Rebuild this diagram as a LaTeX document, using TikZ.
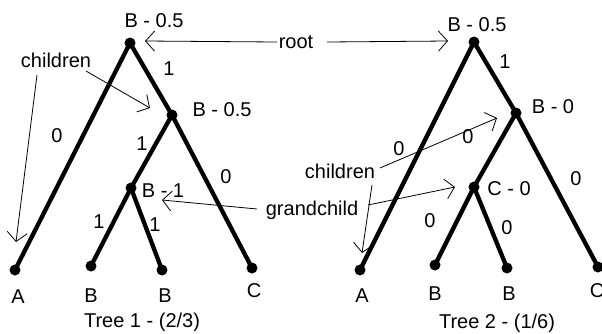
\documentclass[tikz,border=0pt]{standalone}
\usepackage{fontspec}
\setmainfont{Liberation Sans}
\usetikzlibrary{arrows.meta}
\begin{document}
\begin{tikzpicture}[x=1pt,y=-1pt,
  dot/.style={circle,fill=black,inner sep=0pt,minimum size=11pt},
  edge/.style={line width=4.3pt},
  lbl/.style={anchor=base,inner sep=0pt,font=\fontsize{20}{24}\selectfont},
  note/.style={line width=0.8pt,-{Straight Barb[length=9pt,width=20pt,line width=0.8pt]}}]
\useasboundingbox (0,0) rectangle (602,333);
% Tree 1
\node[dot] (r1) at (130,43) {};
\node[dot] (a1) at (172,115) {};
\node[dot] (b1) at (131,188) {};
\node[dot] (la1) at (15,270) {};
\node[dot] (lb1) at (91,266) {};
\node[dot] (lc1) at (162,270) {};
\node[dot] (ld1) at (252,268) {};
\draw[edge] (r1.center) -- (la1.center);
\draw[edge] (r1.center) -- (a1.center);
\draw[edge] (a1.center) -- (b1.center);
\draw[edge] (a1.center) -- (ld1.center);
\draw[edge] (b1.center) -- (lb1.center);
\draw[edge] (b1.center) -- (lc1.center);
\node[lbl] (t1r) at (154,27) {B - 0.5};
\node[lbl] (t1a) at (222,116) {B - 0.5};
\node[lbl] (t1b) at (163,197) {B - 1};
\node[lbl] (e1) at (169,75) {1};
\node[lbl] (e2) at (57,142) {0};
\node[lbl] (e3) at (142,150) {1};
\node[lbl] (e4) at (226,183) {0};
\node[lbl] (e5) at (99,228) {1};
\node[lbl] (e6) at (155,231) {1};
\node[lbl] (n1) at (18,303) {A};
\node[lbl] (n2) at (91,302) {B};
\node[lbl] (n3) at (165,302) {B};
\node[lbl] (n4) at (254,297) {C};
\node[lbl] (cap1) at (142,327) {Tree 1 - (2/3)};
% Tree 2
\node[dot] (r2) at (474,42) {};
\node[dot] (a2) at (516,113) {};
\node[dot] (b2) at (474,187) {};
\node[dot] (la2) at (360,270) {};
\node[dot] (lb2) at (435,265) {};
\node[dot] (lc2) at (507,268) {};
\node[dot] (ld2) at (598,267) {};
\draw[edge] (r2.center) -- (la2.center);
\draw[edge] (r2.center) -- (a2.center);
\draw[edge] (a2.center) -- (b2.center);
\draw[edge] (a2.center) -- (ld2.center);
\draw[edge] (b2.center) -- (lb2.center);
\draw[edge] (b2.center) -- (lc2.center);
\node[lbl] (t2r) at (477,31) {B - 0.5};
\node[lbl] (t2a) at (553,113) {B - 0};
\node[lbl] (t2b) at (509,195) {C - 0};
\node[lbl] (f1) at (505,68) {1};
\node[lbl] (f2) at (399,155) {0};
\node[lbl] (f3) at (468,143) {0};
\node[lbl] (f4) at (576,185) {0};
\node[lbl] (f5) at (430,227) {0};
\node[lbl] (f6) at (507,234) {0};
\node[lbl] (m1) at (362,302) {A};
\node[lbl] (m2) at (435,300) {B};
\node[lbl] (m3) at (509,300) {B};
\node[lbl] (m4) at (597,297) {C};
\node[lbl] (cap2) at (497,328) {Tree 2 - (1/6)};
% annotations
\node[lbl] (root) at (296,48) {root};
\node[lbl] (ch1) at (56,67) {children};
\node[lbl] (gc) at (312,215) {grandchild};
\node[lbl] (ch2) at (340,178) {children};
\coordinate (rl0) at (277,42); \coordinate (rl1) at (145,41);
\coordinate (rr0) at (327,42); \coordinate (rr1) at (448,41);
\coordinate (c1a0) at (86,71); \coordinate (c1a1) at (150,108);
\coordinate (c1b0) at (37,75); \coordinate (c1b1) at (16,242);
\coordinate (gl0) at (257,209); \coordinate (gl1) at (162,200);
\coordinate (gr0) at (368,205); \coordinate (gr1) at (455,187);
\coordinate (c2a0) at (380,168); \coordinate (c2a1) at (497,118);
\coordinate (c2b0) at (372,185); \coordinate (c2b1) at (362,253);
\draw[note] (rl0) -- (rl1);
\draw[note] (rr0) -- (rr1);
\draw[note] (c1a0) -- (c1a1);
\draw[note] (c1b0) -- (c1b1);
\draw[note] (gl0) -- (gl1);
\draw[note] (gr0) -- (gr1);
\draw[note] (c2a0) -- (c2a1);
\draw[note] (c2b0) -- (c2b1);
\end{tikzpicture}
\end{document}
